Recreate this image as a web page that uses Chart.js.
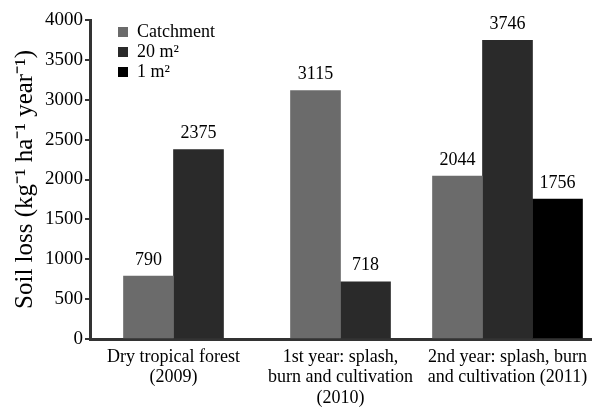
<!DOCTYPE html>
<html>
<head>
<meta charset="utf-8">
<script src="https://cdn.jsdelivr.net/npm/chart.js@4"></script>
<style>
  html, body { margin: 0; padding: 0; background: #fff; }
  #wrap { width: 615px; height: 409px; }
</style>
</head>
<body>
<div id="wrap"><canvas id="myChart" width="615" height="409"></canvas></div>
<script>
var categories = [
  ['Dry tropical forest', '(2009)'],
  ['1st year: splash,', 'burn and cultivation', '(2010)'],
  ['2nd year: splash, burn', 'and cultivation (2011)']
];
var catchment = [790, 3115, 2044];
var plot20 = [2375, 718, 3746];
var plot1 = [null, null, 1756];
var yTicks = [0, 500, 1000, 1500, 2000, 2500, 3000, 3500, 4000];

var serif = "'Liberation Serif', 'Times New Roman', Times, serif";
Chart.defaults.font.family = serif;
Chart.defaults.color = '#000';

// numbers above the bars
var valueLabels = {
  id: 'valueLabels',
  afterDatasetsDraw: function(chart) {
    var ctx = chart.ctx;
    ctx.save();
    ctx.font = '18px ' + serif;
    ctx.fillStyle = '#000';
    ctx.textAlign = 'center';
    ctx.textBaseline = 'bottom';
    chart.data.datasets.forEach(function(ds, i) {
      chart.getDatasetMeta(i).data.forEach(function(bar, j) {
        if (ds.data[j] === null) return;
        ctx.fillText(ds.data[j], bar.x, bar.y - 7);
      });
    });
    ctx.restore();
  }
};

// simple legend in the top left of the plot
var boxLegend = {
  id: 'boxLegend',
  afterDraw: function(chart) {
    var ctx = chart.ctx;
    ctx.save();
    ctx.font = '18px ' + serif;
    ctx.textBaseline = 'middle';
    chart.data.datasets.forEach(function(ds, i) {
      var y = 32 + i * 20;
      ctx.fillStyle = ds.backgroundColor;
      ctx.fillRect(118, y - 5, 10, 10);
      ctx.fillStyle = '#000';
      ctx.fillText(ds.label, 137, y);
    });
    ctx.restore();
  }
};

var ctx = document.getElementById('myChart').getContext('2d');
var myChart = new Chart(ctx, {
  type: 'bar',
  data: {
    labels: categories,
    datasets: [
      { label: 'Catchment', data: catchment, backgroundColor: '#6b6b6b' },
      { label: '20 m²', data: plot20, backgroundColor: '#2a2a2a' },
      { label: '1 m²', data: plot1, backgroundColor: '#000000' }
    ]
  },
  options: {
    responsive: false,
    animation: false,
    skipNull: true,
    barThickness: 50,
    layout: { padding: { left: 0, right: 24, top: 20, bottom: 0 } },
    plugins: {
      legend: { display: false },
      tooltip: { enabled: false }
    },
    scales: {
      x: {
        grid: { display: false },
        border: { color: '#333', width: 3 },
        ticks: {
          color: '#000',
          font: { family: serif, size: 18, lineHeight: 1.13 },
          maxRotation: 0,
          autoSkip: false,
          padding: 0
        },
        afterFit: function(scale) { scale.height = 70; }
      },
      y: {
        min: 0,
        max: 4000,
        afterBuildTicks: function(scale) {
          scale.ticks = yTicks.map(function(v) { return { value: v }; });
        },
        grid: { drawOnChartArea: false, drawTicks: true, tickLength: 5, color: '#333', lineWidth: 2 },
        border: { color: '#333', width: 3 },
        ticks: {
          color: '#000',
          font: { family: serif, size: 19 },
          padding: 2,
          callback: function(v) { return String(v); }
        },
        title: {
          display: true,
          text: 'Soil loss (kg⁻¹ ha⁻¹ year⁻¹)',
          color: '#000',
          font: { family: serif, size: 25 },
          padding: { top: 10, bottom: 2 }
        },
        afterFit: function(scale) { scale.width = 90; }
      }
    }
  },
  plugins: [valueLabels, boxLegend]
});
</script>
</body>
</html>
